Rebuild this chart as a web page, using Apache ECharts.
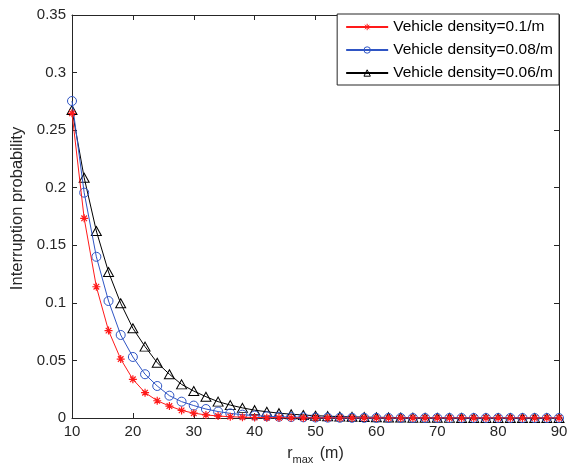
<!DOCTYPE html>
<html>
<head>
<meta charset="utf-8">
<script src="https://cdn.jsdelivr.net/npm/echarts@6/dist/echarts.min.js"></script>
<style>
html,body{margin:0;padding:0;background:#fff;}
#chart{width:571px;height:463px;}
</style>
</head>
<body>
<div id="chart"></div>
<script>
// r_max sample points (m)
const rMax = [10,12,14,16,18,20,22,24,26,28,30,32,34,36,38,40,42,44,46,48,50,
              52,54,56,58,60,62,64,66,68,70,72,74,76,78,80,82,84,86,88,90];

// Interruption probability for each vehicle density
const density010 = [0.2646,0.1734,0.114,0.0759,0.0512,0.0336,0.022,0.015,0.0104,0.0066,
  0.0042,0.0027,0.0017,0.0011,0.0007,0.00045,0.0003,0.0002,0.00012,0.00008,
  0.00005,0.00003,0.00002,0.00001,0,0,0,0,0,0,
  0,0,0,0,0,0,0,0,0,0,0];
const density008 = [0.2753,0.1957,0.140,0.1016,0.0721,0.053,0.038,0.0278,0.0194,0.0142,
  0.0108,0.0078,0.0056,0.004,0.0029,0.0021,0.0015,0.0011,0.0008,0.0006,
  0.0004,0.0003,0.0002,0.00015,0.0001,0.00007,0.00005,0.00003,0.00002,0.00001,
  0,0,0,0,0,0,0,0,0,0,0];
const density006 = [0.2675,0.2087,0.1624,0.1268,0.0996,0.0779,0.062,0.048,0.038,0.0292,
  0.0234,0.0185,0.0142,0.0112,0.0088,0.0068,0.0054,0.0042,0.0033,0.0026,
  0.002,0.0016,0.0012,0.001,0.0008,0.0006,0.0005,0.0004,0.0003,0.0002,
  0.00015,0.0001,0.00007,0.00005,0.00003,0.00002,0.00001,0,0,0,0];

const seriesNames = ['Vehicle density=0.1/m','Vehicle density=0.08/m','Vehicle density=0.06/m'];
const xTicks = {min: 10, max: 90, step: 10};
const yTicks = {min: 0, max: 0.35, step: 0.05};

const pairs = ys => rMax.map((r, i) => [r, ys[i]]);

const axisColor = '#262626';
const red = '#ff1a1a', blue = '#2f55c4', black = '#000';
const font = 'Liberation Sans, Arial, sans-serif';
const asterisk = 'path://M5,0L5,10M0,5L10,5M1.5,1.5L8.5,8.5M1.5,8.5L8.5,1.5';

const frameAxis = (extra) => Object.assign({
  type: 'value',
  axisLine: {show: true, onZero: false, lineStyle: {color: axisColor, width: 1}},
  axisTick: {show: true, inside: true, length: 5, lineStyle: {color: axisColor}},
  splitLine: {show: false}
}, extra);

const hollow = c => ({color: 'rgba(0,0,0,0)', borderColor: c, borderWidth: 1});

const chart = echarts.init(document.getElementById('chart'), null, {renderer: 'canvas'});
chart.setOption({
  animation: false,
  backgroundColor: '#fff',
  grid: {left: 72, right: 12, top: 15, bottom: 45, containLabel: false, outerBoundsMode: 'none'},
  legend: {
    data: [
      {name: seriesNames[0], itemStyle: hollow(red)},
      {name: seriesNames[1], itemStyle: hollow(blue)},
      {name: seriesNames[2], itemStyle: hollow(black)}
    ],
    orient: 'vertical',
    right: 12,
    top: 14,
    itemWidth: 42,
    itemHeight: 8,
    itemGap: 7,
    padding: [5, 6, 4, 8],
    borderColor: axisColor,
    borderWidth: 1,
    borderRadius: 0,
    backgroundColor: '#fff',
    textStyle: {fontFamily: font, fontSize: 15.5, color: '#000'}
  },
  xAxis: [
    frameAxis({
      min: xTicks.min, max: xTicks.max, interval: xTicks.step, position: 'bottom',
      axisLabel: {color: axisColor, fontFamily: font, fontSize: 15, margin: 6},
      name: 'r{sub|max} (m)',
      nameLocation: 'middle',
      nameGap: 24,
      nameTextStyle: {color: axisColor, fontFamily: font, fontSize: 16,
        rich: {sub: {fontSize: 11, fontFamily: font, color: axisColor, padding: [12, 2, 0, 0]}}}
    }),
    frameAxis({
      min: xTicks.min, max: xTicks.max, interval: xTicks.step, position: 'top',
      axisLabel: {show: false}
    })
  ],
  yAxis: [
    frameAxis({
      min: yTicks.min, max: yTicks.max, interval: yTicks.step, position: 'left',
      axisLabel: {color: axisColor, fontFamily: font, fontSize: 15, margin: 6},
      name: 'Interruption probability',
      nameLocation: 'middle',
      nameGap: 41,
      nameTextStyle: {color: axisColor, fontFamily: font, fontSize: 16.5, padding: [0, 0, 0, 16]}
    }),
    frameAxis({
      min: yTicks.min, max: yTicks.max, interval: yTicks.step, position: 'right',
      axisLabel: {show: false}
    })
  ],
  series: [
    {
      name: seriesNames[2], type: 'line', data: pairs(density006), z: 2,
      symbol: 'triangle', symbolSize: [10, 9],
      lineStyle: {color: black, width: 1},
      itemStyle: hollow(black)
    },
    {
      name: seriesNames[1], type: 'line', data: pairs(density008), z: 3,
      symbol: 'circle', symbolSize: 9,
      lineStyle: {color: blue, width: 1},
      itemStyle: hollow(blue)
    },
    {
      name: seriesNames[0], type: 'line', data: pairs(density010), z: 4,
      symbol: asterisk, symbolSize: 8,
      lineStyle: {color: red, width: 1},
      itemStyle: {color: 'rgba(0,0,0,0)', borderColor: red, borderWidth: 1.2}
    }
  ]
});
</script>
</body>
</html>
